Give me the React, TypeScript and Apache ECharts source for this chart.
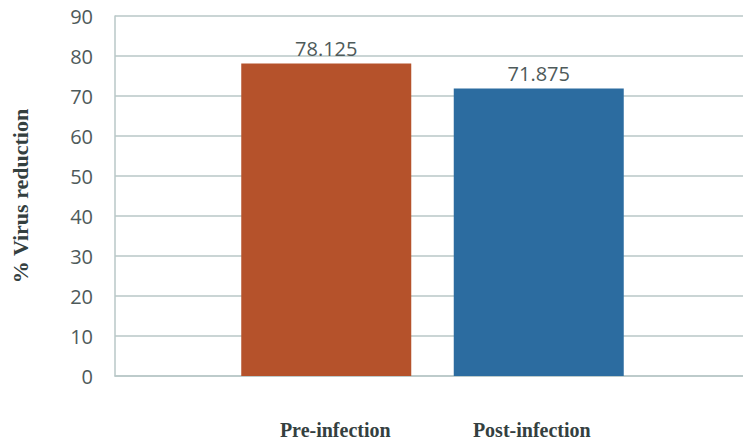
import React, { useEffect, useRef } from "react";
import * as echarts from "echarts";

const categories = ["Pre-infection", "Post-infection"];
const values = [78.125, 71.875];
const barColors = ["#b5522b", "#2c6ca0"];
const yTicks = { min: 0, max: 90, interval: 10 };
const yTitle = "% Virus reduction";

export default function App() {
  const ref = useRef<HTMLDivElement>(null);
  useEffect(() => {
    const chart = echarts.init(ref.current!, null, { renderer: "svg" });
    const gridColor = "#b9c7c7";
    chart.setOption({
      animation: false,
      backgroundColor: "#ffffff",
      grid: [
        { left: 115, top: 16, right: 0, bottom: 66 },
        { left: 220, top: 16, width: 425, bottom: 66 },
      ],
      xAxis: [
        {
          gridIndex: 0,
          type: "category",
          data: [""],
          axisLine: { show: true, lineStyle: { color: gridColor, width: 1.5 } },
          axisTick: { show: false },
          axisLabel: { show: false },
        },
        {
          gridIndex: 1,
          type: "category",
          data: [
            { value: categories[0], textStyle: { padding: [0, 0, 0, 18] } },
            { value: categories[1], textStyle: { padding: [0, 14, 0, 0] } },
          ],
          axisLine: { show: false },
          axisTick: { show: false },
          axisLabel: {
            margin: 44,
            fontFamily: "Liberation Serif",
            fontWeight: "bold",
            fontSize: 20,
            color: "#34403f",
          },
        },
      ],
      yAxis: [
        {
          gridIndex: 0,
          type: "value",
          min: yTicks.min,
          max: yTicks.max,
          interval: yTicks.interval,
          name: yTitle,
          nameLocation: "middle",
          nameGap: 84,
          nameTextStyle: {
            fontFamily: "Liberation Serif",
            fontWeight: "bold",
            fontSize: 22,
            color: "#34403f",
          },
          axisLine: { show: true, lineStyle: { color: gridColor, width: 1.5 } },
          axisTick: { show: false },
          axisLabel: {
            margin: 22,
            fontFamily: "Open Sans",
            fontSize: 20,
            color: "#4e5a5a",
          },
          splitLine: { show: true, lineStyle: { color: gridColor, width: 1.5 } },
        },
        {
          gridIndex: 1,
          type: "value",
          min: yTicks.min,
          max: yTicks.max,
          interval: yTicks.interval,
          show: false,
          splitLine: { show: false },
        },
      ],
      series: [
        {
          type: "bar",
          xAxisIndex: 1,
          yAxisIndex: 1,
          barWidth: 170,
          data: values.map((v, i) => ({
            value: v,
            itemStyle: { color: barColors[i] },
          })),
          label: {
            show: true,
            position: "top",
            distance: 5,
            fontFamily: "Open Sans",
            fontSize: 20,
            color: "#4e5a5a",
            formatter: (p: any) => String(p.value),
          },
        },
      ],
    });
    return () => chart.dispose();
  }, []);
  return (
    <div
      ref={ref}
      style={{ position: "fixed", left: 0, top: 0, width: 743, height: 442 }}
    />
  );
}
